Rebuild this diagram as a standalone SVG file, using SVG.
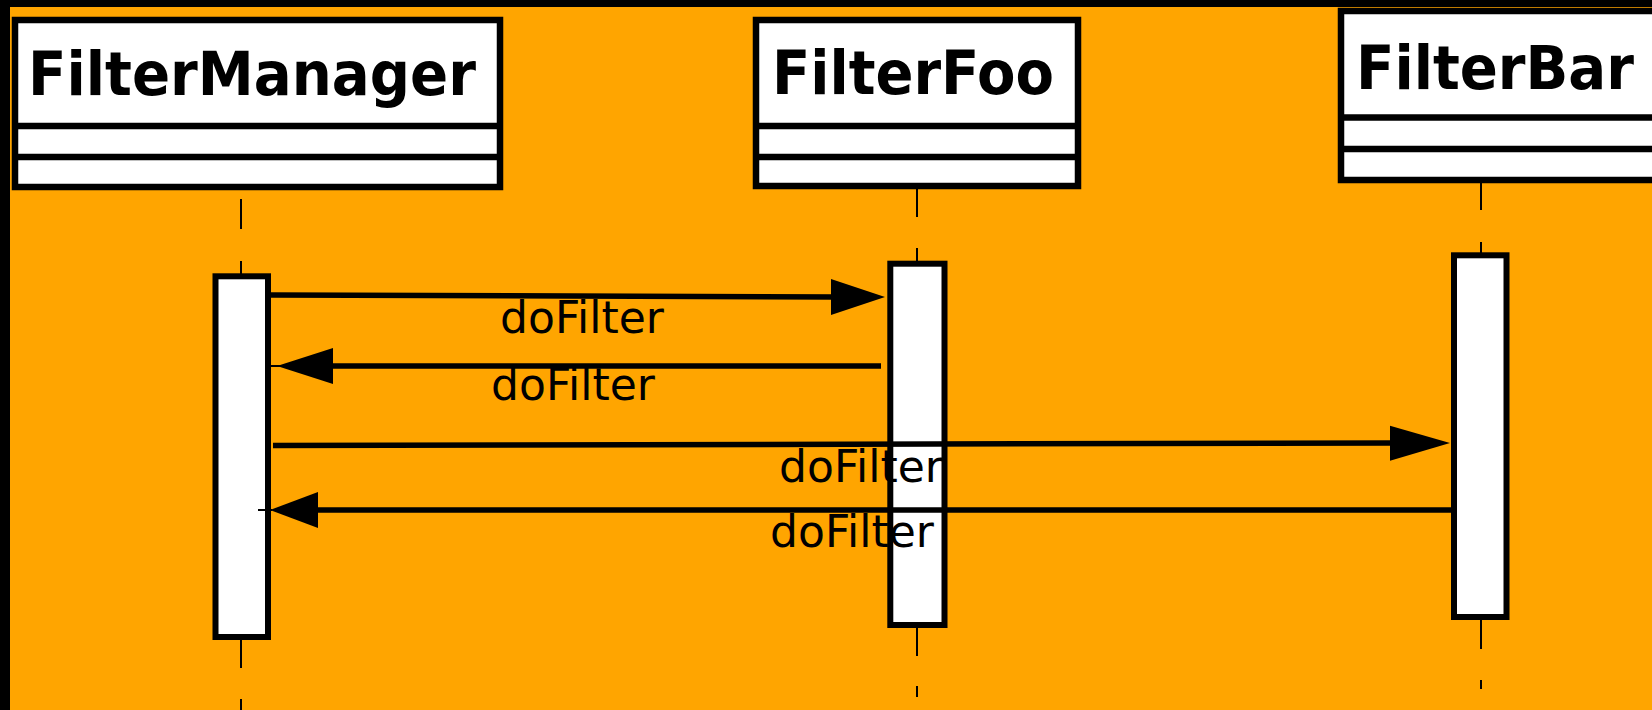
<svg xmlns="http://www.w3.org/2000/svg" width="1652" height="710" viewBox="0 0 1652 710">
<style>
.box{fill:#fff;stroke:#000;stroke-width:6.5}
.div{stroke:#000;stroke-width:6.5;fill:none}
.life{stroke:#000;stroke-width:2;fill:none}
.act{fill:#fff;stroke:#000;stroke-width:6}
.title{font-family:"DejaVu Sans","Liberation Sans",sans-serif;font-weight:bold;font-size:60px;fill:#000}
.msg{stroke:#000;stroke-width:5.5;fill:none}
.head{fill:#000;stroke:none}
.lbl{font-family:"DejaVu Sans","Liberation Sans",sans-serif;font-size:44px;fill:#000;text-anchor:middle}
</style>
<rect x="0" y="0" width="1652" height="710" fill="#000"/>
<rect x="10" y="7" width="1642" height="703" fill="#FFA500"/>

<g id="FilterManager">
<rect class="box" x="15" y="20" width="485" height="167"/>
<line class="div" x1="15" y1="126" x2="500" y2="126"/>
<line class="div" x1="15" y1="157" x2="500" y2="157"/>
<text class="title" x="28" y="94.5" textLength="448" lengthAdjust="spacingAndGlyphs">FilterManager</text>
<path class="life" d="M241 199V229M241 261V276M241 640V668M241 699V712"/>
<rect class="act" x="215.5" y="276.3" width="52.5" height="360.7"/>
</g>

<g id="FilterFoo">
<rect class="box" x="756" y="20" width="322" height="166"/>
<line class="div" x1="756" y1="126" x2="1078" y2="126"/>
<line class="div" x1="756" y1="157" x2="1078" y2="157"/>
<text class="title" x="772" y="93.5" textLength="282" lengthAdjust="spacingAndGlyphs">FilterFoo</text>
<path class="life" d="M917 189V217M917 248V264M917 628V656M917 686V697"/>
<rect class="act" x="890.3" y="263.7" width="54.2" height="361.3"/>
</g>

<g id="FilterBar">
<rect class="box" x="1341" y="11" width="330" height="169"/>
<line class="div" x1="1341" y1="117.5" x2="1660" y2="117.5"/>
<line class="div" x1="1341" y1="149" x2="1660" y2="149"/>
<text class="title" x="1356" y="88.5" textLength="278" lengthAdjust="spacingAndGlyphs">FilterBar</text>
<path class="life" d="M1481 183V210M1481 242V255M1481 620V649M1481 680V689"/>
<rect class="act" x="1454" y="255.3" width="52.5" height="361.7"/>
</g>

<g id="connectors">
<line class="msg" x1="271" y1="295" x2="836" y2="297"/>
<polygon class="head" points="831,279 885,297 831,315"/>
<text class="lbl" x="582" y="333">doFilter</text>

<line class="msg" x1="881" y1="366" x2="330" y2="366"/>
<polygon class="head" points="333,348 277,366 333,384"/>
<line class="life" x1="271" y1="366" x2="280" y2="366"/>
<text class="lbl" x="573" y="400">doFilter</text>

<line class="msg" x1="273" y1="445.5" x2="1395" y2="443"/>
<polygon class="head" points="1390,425.7 1450,443 1390,460.7"/>
<text class="lbl" x="861" y="482">doFilter</text>

<line class="msg" x1="1451" y1="510" x2="315" y2="510"/>
<polygon class="head" points="318,492 270,510 318,528"/>
<line class="life" x1="258" y1="510" x2="272" y2="510"/>
<text class="lbl" x="852" y="547">doFilter</text>
</g>
</svg>
